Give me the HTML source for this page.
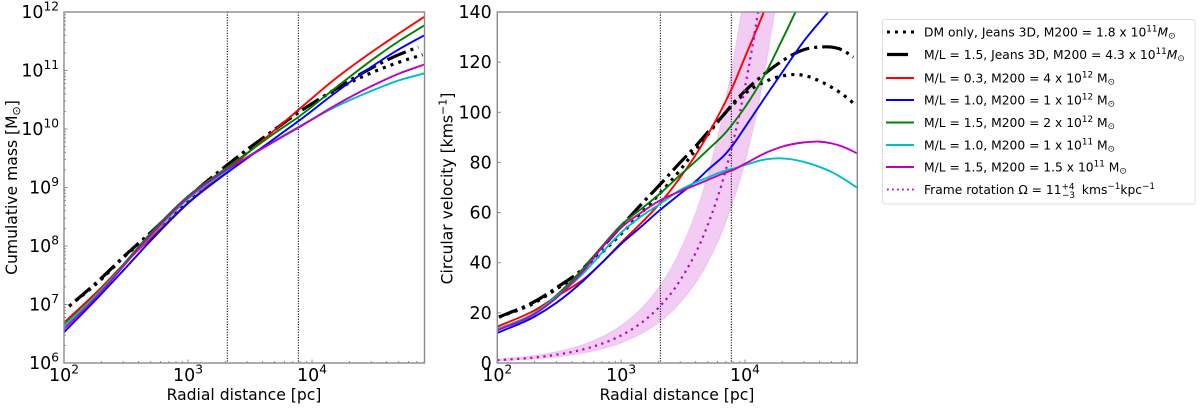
<!DOCTYPE html>
<html lang="en">
<head>
<meta charset="utf-8">
<title>Cumulative mass and circular velocity</title>
<style>
html,body{margin:0;padding:0;background:#fff;width:1200px;height:408px;overflow:hidden}
svg{display:block;filter:blur(0.3px)}
text{font-family:"DejaVu Sans","Liberation Sans",sans-serif;fill:#000}
.tick{font-size:17.4px}
.title{font-size:15.6px}
.leg{font-size:12.3px}
</style>
</head>
<body>
<svg id="fig" width="1200" height="408" viewBox="0 0 1200 408" xmlns="http://www.w3.org/2000/svg">
  <defs>
    <clipPath id="clipL"><rect x="64" y="12" width="360.5" height="351"/></clipPath>
    <clipPath id="clipR"><rect x="497.3" y="12" width="360" height="351"/></clipPath>
  </defs>
  <g id="panelL"></g>
  <g id="panelR"></g>

  <text class="title" x="244" y="400" text-anchor="middle">Radial distance [pc]</text>
  <text class="title" x="677" y="400" text-anchor="middle">Radial distance [pc]</text>
  <text class="title" transform="translate(17,187.5) rotate(-90)" text-anchor="middle">Cumulative mass [M<tspan font-size="11" dy="3">⊙</tspan><tspan dy="-3">]</tspan></text>
  <text class="title" transform="translate(452.7,188.5) rotate(-90)" text-anchor="middle">Circular velocity [kms<tspan font-size="11" dy="-6">−1</tspan><tspan dy="6">]</tspan></text>

  <g>
    <rect x="882.5" y="19.5" width="312.5" height="184.5" rx="2.5" fill="#fff" stroke="#dcdcdc" stroke-width="1"/>

    <g>
      <line x1="887" x2="914" y1="32" y2="32" stroke="#000" stroke-width="3" stroke-dasharray="3 5"/>
      <text class="leg" x="924" y="36.5">DM only, Jeans 3D, M200 = 1.8 x 10<tspan font-size="8.8" dy="-5">11</tspan><tspan font-style="italic" dy="5">M</tspan><tspan font-size="8.8" dy="2">⊙</tspan></text>
    </g>
    <g>
      <line x1="887" x2="908" y1="54.5" y2="54.5" stroke="#000" stroke-width="3.2"/>
      <text class="leg" x="924" y="59">M/L = 1.5, Jeans 3D, M200 = 4.3 x 10<tspan font-size="8.8" dy="-5">11</tspan><tspan font-style="italic" dy="5">M</tspan><tspan font-size="8.8" dy="2">⊙</tspan></text>
    </g>
    <g>
      <line x1="886" x2="914" y1="78" y2="78" stroke="#ff0000" stroke-width="1.9"/>
      <text class="leg" x="924" y="82.5">M/L = 0.3, M200 = 4 x 10<tspan font-size="8.8" dy="-5">12</tspan><tspan dy="5"> M</tspan><tspan font-size="8.8" dy="2">⊙</tspan></text>
    </g>
    <g>
      <line x1="886" x2="914" y1="100" y2="100" stroke="#0000ff" stroke-width="1.9"/>
      <text class="leg" x="924" y="104.5">M/L = 1.0, M200 = 1 x 10<tspan font-size="8.8" dy="-5">12</tspan><tspan dy="5"> M</tspan><tspan font-size="8.8" dy="2">⊙</tspan></text>
    </g>
    <g>
      <line x1="886" x2="914" y1="122.5" y2="122.5" stroke="#008000" stroke-width="1.9"/>
      <text class="leg" x="924" y="127">M/L = 1.5, M200 = 2 x 10<tspan font-size="8.8" dy="-5">12</tspan><tspan dy="5"> M</tspan><tspan font-size="8.8" dy="2">⊙</tspan></text>
    </g>
    <g>
      <line x1="886" x2="914" y1="145" y2="145" stroke="#00bfbf" stroke-width="1.9"/>
      <text class="leg" x="924" y="149.5">M/L = 1.0, M200 = 1 x 10<tspan font-size="8.8" dy="-5">11</tspan><tspan dy="5"> M</tspan><tspan font-size="8.8" dy="2">⊙</tspan></text>
    </g>
    <g>
      <line x1="886" x2="914" y1="167" y2="167" stroke="#bf00bf" stroke-width="1.9"/>
      <text class="leg" x="924" y="171.5">M/L = 1.5, M200 = 1.5 x 10<tspan font-size="8.8" dy="-5">11</tspan><tspan dy="5"> M</tspan><tspan font-size="8.8" dy="2">⊙</tspan></text>
    </g>
    <g>
      <line x1="887" x2="914" y1="189.5" y2="189.5" stroke="#bf00bf" stroke-width="1.8" stroke-dasharray="1.8 3.2"/>
      <text class="leg" x="924" y="194">Frame rotation Ω = 11<tspan font-size="8.8" dy="-4.5">+4</tspan><tspan font-size="8.8" dx="-12.5" dy="8.5">−3</tspan><tspan dx="3" dy="-4"> kms</tspan><tspan font-size="8.8" dy="-5">−1</tspan><tspan dy="5">kpc</tspan><tspan font-size="8.8" dy="-5">−1</tspan></text>
    </g>
  </g>
</svg>

<script>
// ---------- chart data ----------
const massExponents = [6, 7, 8, 9, 10, 11, 12];
const velocityTicks = [0, 20, 40, 60, 80, 100, 120, 140];
const xExponents = [2, 3, 4];
const xLogMin = 2;
const xLogMax = 4.907;
const verticalMarkers = [2075, 7760];

// mass panel: log10(M / Msun)
const massRadii = [100, 200, 300, 500, 1000, 2000, 3000, 5000, 8000, 15000, 30000, 50000, 80000];
const massRed = [6.69, 7.29, 7.68, 8.13, 8.74, 9.27, 9.58, 9.98, 10.35, 10.84, 11.31, 11.63, 11.916];
const massBlue = [6.525, 7.18, 7.58, 8.09, 8.73, 9.23, 9.50, 9.84, 10.155, 10.60, 11.06, 11.36, 11.60];
const massGreen = [6.65, 7.26, 7.68, 8.22, 8.85, 9.32, 9.59, 9.93, 10.225, 10.68, 11.17, 11.50, 11.768];
const massCyan = [6.63, 7.25, 7.66, 8.17, 8.80, 9.27, 9.52, 9.80, 10.05, 10.365, 10.65, 10.83, 10.95];
const massMagenta = [6.58, 7.22, 7.65, 8.19, 8.83, 9.29, 9.515, 9.79, 10.04, 10.39, 10.73, 10.945, 11.10];
const massDotRadii = [110, 200, 300, 500, 1000, 2000, 3000, 5000, 8000, 15000, 30000, 50000, 78000];
const massDotted = [6.97, 7.43, 7.80, 8.20, 8.79, 9.33, 9.63, 9.99, 10.30, 10.65, 10.96, 11.14, 11.27];
const massDashRadii = [110, 200, 300, 500, 1000, 2000, 3000, 5000, 8000, 15000, 30000, 50000, 72000];
const massDashDot = [6.97, 7.45, 7.81, 8.23, 8.83, 9.36, 9.65, 9.99, 10.30, 10.665, 11.04, 11.27, 11.40];

// velocity panel: km/s
const velRadii = [100, 200, 300, 500, 700, 1000, 1500, 2000, 3000, 4000, 5000, 7000, 8000, 10000, 15000, 20000, 30000, 40000, 50000, 60000, 80000];
const velRed = [14.5, 21, 26.5, 33.5, 40, 48, 56.5, 63, 74, 83, 91, 104.5, 110.5, 122, 143, 160, 180, 190, 197, 201, 207];
const velBlue = [12, 18.5, 24, 33, 40, 47.5, 55, 60.5, 67.5, 72.5, 77, 83.5, 87, 94, 107, 116, 128.5, 136, 141.5, 145, 150];
const velGreen = [13.5, 20, 27, 38, 46.5, 55, 62, 67, 75, 80.5, 85, 92, 95.5, 102, 116.5, 129, 147, 159, 166, 171, 177];
const velCyan = [13.5, 20, 26.5, 36, 44, 52, 59, 63, 69, 72, 74, 76.8, 77.5, 79, 81.3, 81.6, 80.2, 78.2, 76.2, 74, 70];
const velMagenta = [13, 19.5, 26, 37, 46, 54, 60.5, 64.5, 68.5, 71, 73, 76, 77, 79.5, 84, 86.3, 88, 88.3, 87.6, 86.5, 83.7];
const velDotRadii = [103, 200, 300, 500, 700, 1000, 1500, 2000, 3000, 4000, 5000, 7000, 8000, 10000, 15000, 20000, 30000, 40000, 50000, 60000, 78000];
const velDotted = [18.3, 24, 29.5, 37, 44, 51.5, 60.5, 67, 77, 85, 91, 100, 103, 107.5, 112.5, 114.5, 114.7, 112.5, 110, 107.5, 103];
const velDashRadii = [103, 200, 300, 500, 700, 1000, 1500, 2000, 3000, 4000, 5000, 7000, 8000, 10000, 15000, 20000, 30000, 40000, 50000, 60000, 75000];
const velDashDot = [18.3, 24.5, 30, 38, 46, 54.5, 64, 70.5, 80, 86.5, 92, 100, 103.5, 108.5, 116, 120.5, 125, 126, 126, 125, 122];

const frameRadii = [100, 200, 300, 500, 700, 1000, 1500, 2000, 3000, 5000, 7000, 10000, 13000, 18000];
const frameMid = [1.1, 2.2, 3.3, 5.5, 7.7, 11, 16.5, 22, 33, 55, 77, 110, 143, 198];
const frameUpper = [1.5, 3, 4.5, 7.5, 10.5, 15, 22.5, 30, 45, 75, 105, 150, 195, 270];
const frameLower = [0.8, 1.6, 2.4, 4, 5.6, 8, 12, 16, 24, 40, 56, 80, 104, 144];

// ---------- axis functions ----------
const PLOT_TOP = 12, PLOT_BOTTOM = 363;
const L_X0 = 64, L_X1 = 424.5, R_X0 = 497.3, R_X1 = 857.3;
const DOT_DASH = '3.1 5.15';
const DASHDOT_DASH = '19.9 5 3.1 5';
function xLeft(r) { return L_X0 + (Math.log10(r) - xLogMin) / (xLogMax - xLogMin) * (L_X1 - L_X0); }
function xRight(r) { return R_X0 + (Math.log10(r) - xLogMin) / (xLogMax - xLogMin) * (R_X1 - R_X0); }
function yMass(logM) { return PLOT_BOTTOM - (logM - 6) / 6 * (PLOT_BOTTOM - PLOT_TOP); }
function yVel(v) { return PLOT_BOTTOM - v / 140 * (PLOT_BOTTOM - PLOT_TOP); }

const NS = 'http://www.w3.org/2000/svg';
const panelL = document.getElementById('panelL');
const panelR = document.getElementById('panelR');

// cubic Hermite through the points using non-uniform three-point tangents
function smoothSegments(pts) {
  const n = pts.length;
  const sec = [];
  for (let i = 0; i < n - 1; i++) sec.push((pts[i + 1][1] - pts[i][1]) / (pts[i + 1][0] - pts[i][0]));
  const tan = [sec[0]];
  for (let i = 1; i < n - 1; i++) {
    const h0 = pts[i][0] - pts[i - 1][0], h1 = pts[i + 1][0] - pts[i][0];
    tan.push((h1 * sec[i - 1] + h0 * sec[i]) / (h0 + h1));
  }
  tan.push(sec[n - 2]);
  let d = '';
  for (let i = 0; i < n - 1; i++) {
    const h = (pts[i + 1][0] - pts[i][0]) / 3;
    d += ' C' + (pts[i][0] + h).toFixed(2) + ' ' + (pts[i][1] + tan[i] * h).toFixed(2) + ' ' +
      (pts[i + 1][0] - h).toFixed(2) + ' ' + (pts[i + 1][1] - tan[i + 1] * h).toFixed(2) + ' ' +
      pts[i + 1][0].toFixed(2) + ' ' + pts[i + 1][1].toFixed(2);
  }
  return d;
}
function toPoints(radii, values, fx, fy) {
  return radii.map(function (r, i) { return [fx(r), fy(values[i])]; });
}
function curvePath(pts) {
  return 'M' + pts[0][0].toFixed(2) + ' ' + pts[0][1].toFixed(2) + smoothSegments(pts);
}

function addSeries(parent, clip, name, radii, values, fx, fy, color, width, dash, offset) {
  const el = document.createElementNS(NS, 'path');
  
  
  el.setAttribute('d', curvePath(toPoints(radii, values, fx, fy)));
  el.setAttribute('fill', 'none');
  el.setAttribute('stroke', color);
  el.setAttribute('stroke-width', width);
  if (dash) el.setAttribute('stroke-dasharray', dash);
  if (offset) el.setAttribute('stroke-dashoffset', offset);
  el.setAttribute('clip-path', 'url(#' + clip + ')');
  parent.appendChild(el);
}

function addMarker(parent, name, x) {
  const el = document.createElementNS(NS, 'line');
  
  
  el.setAttribute('x1', x);
  el.setAttribute('x2', x);
  el.setAttribute('y1', PLOT_TOP);
  el.setAttribute('y2', PLOT_BOTTOM);
  el.setAttribute('stroke', '#000');
  el.setAttribute('stroke-width', '1.1');
  el.setAttribute('stroke-dasharray', '1.1 1.5');
  parent.appendChild(el);
}

function addTick(parent, x1, y1, x2, y2, minor) {
  const el = document.createElementNS(NS, 'line');
  
  
  el.setAttribute('x1', x1);
  el.setAttribute('y1', y1);
  el.setAttribute('x2', x2);
  el.setAttribute('y2', y2);
  el.setAttribute('stroke', '#808080');
  el.setAttribute('stroke-width', '0.9');
  parent.appendChild(el);
}

function addFrame(parent, name, x0, x1) {
  const el = document.createElementNS(NS, 'rect');
  
  
  el.setAttribute('x', x0);
  el.setAttribute('y', PLOT_TOP);
  el.setAttribute('width', x1 - x0);
  el.setAttribute('height', PLOT_BOTTOM - PLOT_TOP);
  el.setAttribute('fill', 'none');
  el.setAttribute('stroke', '#8a8a8a');
  el.setAttribute('stroke-width', '1.4');
  parent.appendChild(el);
}

function addPowerLabel(parent, name, x, y, anchor, exponent) {
  const el = document.createElementNS(NS, 'text');
  
  
  el.setAttribute('class', 'tick');
  el.setAttribute('x', x);
  el.setAttribute('y', y);
  el.setAttribute('text-anchor', anchor);
  el.appendChild(document.createTextNode('10'));
  const sup = document.createElementNS(NS, 'tspan');
  sup.setAttribute('font-size', '12.2');
  sup.setAttribute('dy', '-7.5');
  sup.textContent = String(exponent);
  el.appendChild(sup);
  parent.appendChild(el);
}

function addPlainLabel(parent, name, x, y, value) {
  const el = document.createElementNS(NS, 'text');
  
  
  el.setAttribute('class', 'tick');
  el.setAttribute('x', x);
  el.setAttribute('y', y);
  el.setAttribute('text-anchor', 'end');
  el.textContent = String(value);
  parent.appendChild(el);
}

function addXAxis(parent, fx, prefix) {
  xExponents.forEach(function (e) {
    const major = Math.pow(10, e);
    addTick(parent, fx(major), PLOT_BOTTOM, fx(major), PLOT_BOTTOM - 3.5, false);
    addPowerLabel(parent, prefix + '-x-tick-label', fx(major), 381, 'middle', e);
    for (let m = 2; m < 10; m++) {
      const r = m * major;
      if (Math.log10(r) < xLogMax) addTick(parent, fx(r), PLOT_BOTTOM, fx(r), PLOT_BOTTOM - 2, true);
    }
  });
}

// ---------- mass panel ----------
verticalMarkers.forEach(function (r) { addMarker(panelL, 'mass-radius-marker', xLeft(r)); });
addSeries(panelL, 'clipL', 'mass-dm-only-line', massDotRadii, massDotted, xLeft, yMass, '#000', 3.2, DOT_DASH);
addSeries(panelL, 'clipL', 'mass-jeans-line', massDashRadii, massDashDot, xLeft, yMass, '#000', 3.2, DASHDOT_DASH, 24.9);
addSeries(panelL, 'clipL', 'mass-red-line', massRadii, massRed, xLeft, yMass, '#ff0000', 1.9);
addSeries(panelL, 'clipL', 'mass-green-line', massRadii, massGreen, xLeft, yMass, '#008000', 1.9);
addSeries(panelL, 'clipL', 'mass-cyan-line', massRadii, massCyan, xLeft, yMass, '#00bfbf', 1.9);
addSeries(panelL, 'clipL', 'mass-blue-line', massRadii, massBlue, xLeft, yMass, '#0000ff', 1.9);
addSeries(panelL, 'clipL', 'mass-magenta-line', massRadii, massMagenta, xLeft, yMass, '#bf00bf', 1.9);
addXAxis(panelL, xLeft, 'mass');
massExponents.forEach(function (e) {
  addTick(panelL, L_X0, yMass(e), L_X0 + 3.5, yMass(e), false);
  addPowerLabel(panelL, 'mass-y-tick-label', 59, yMass(e) + 6, 'end', e);
  if (e < 12) {
    for (let m = 2; m < 10; m++) {
      const v = e + Math.log10(m);
      addTick(panelL, L_X0, yMass(v), L_X0 + 2, yMass(v), true);
    }
  }
});
addFrame(panelL, 'mass-plot-frame', L_X0, L_X1);

// ---------- velocity panel ----------
const bandEl = document.createElementNS(NS, 'path');


const upperPts = toPoints(frameRadii, frameUpper, xRight, yVel);
const lowerPts = toPoints(frameRadii, frameLower, xRight, yVel).reverse();
bandEl.setAttribute('d', curvePath(upperPts) + ' L' + lowerPts[0][0].toFixed(2) + ' ' + lowerPts[0][1].toFixed(2) + smoothSegments(lowerPts) + ' Z');
bandEl.setAttribute('fill', '#bf00bf');
bandEl.setAttribute('fill-opacity', '0.2');
bandEl.setAttribute('stroke', '#bf00bf');
bandEl.setAttribute('stroke-opacity', '0.12');
bandEl.setAttribute('clip-path', 'url(#clipR)');
panelR.appendChild(bandEl);

verticalMarkers.forEach(function (r) { addMarker(panelR, 'velocity-radius-marker', xRight(r)); });
addSeries(panelR, 'clipR', 'velocity-dm-only-line', velDotRadii, velDotted, xRight, yVel, '#000', 3.2, DOT_DASH);
addSeries(panelR, 'clipR', 'velocity-jeans-line', velDashRadii, velDashDot, xRight, yVel, '#000', 3.2, DASHDOT_DASH);
addSeries(panelR, 'clipR', 'velocity-red-line', velRadii, velRed, xRight, yVel, '#ff0000', 1.9);
addSeries(panelR, 'clipR', 'velocity-blue-line', velRadii, velBlue, xRight, yVel, '#0000ff', 1.9);
addSeries(panelR, 'clipR', 'velocity-green-line', velRadii, velGreen, xRight, yVel, '#008000', 1.9);
addSeries(panelR, 'clipR', 'velocity-cyan-line', velRadii, velCyan, xRight, yVel, '#00bfbf', 1.9);
addSeries(panelR, 'clipR', 'velocity-magenta-line', velRadii, velMagenta, xRight, yVel, '#bf00bf', 1.9);
addSeries(panelR, 'clipR', 'frame-rotation-line', frameRadii, frameMid, xRight, yVel, '#bf00bf', 2.2, '2.2 4.4');
addXAxis(panelR, xRight, 'velocity');
velocityTicks.forEach(function (v) {
  addTick(panelR, R_X0, yVel(v), R_X0 + 3.5, yVel(v), false);
  addPlainLabel(panelR, 'velocity-y-tick-label', 491.7, yVel(v) + 6, v);
});
addFrame(panelR, 'velocity-plot-frame', R_X0, R_X1);
</script>
</body>
</html>
